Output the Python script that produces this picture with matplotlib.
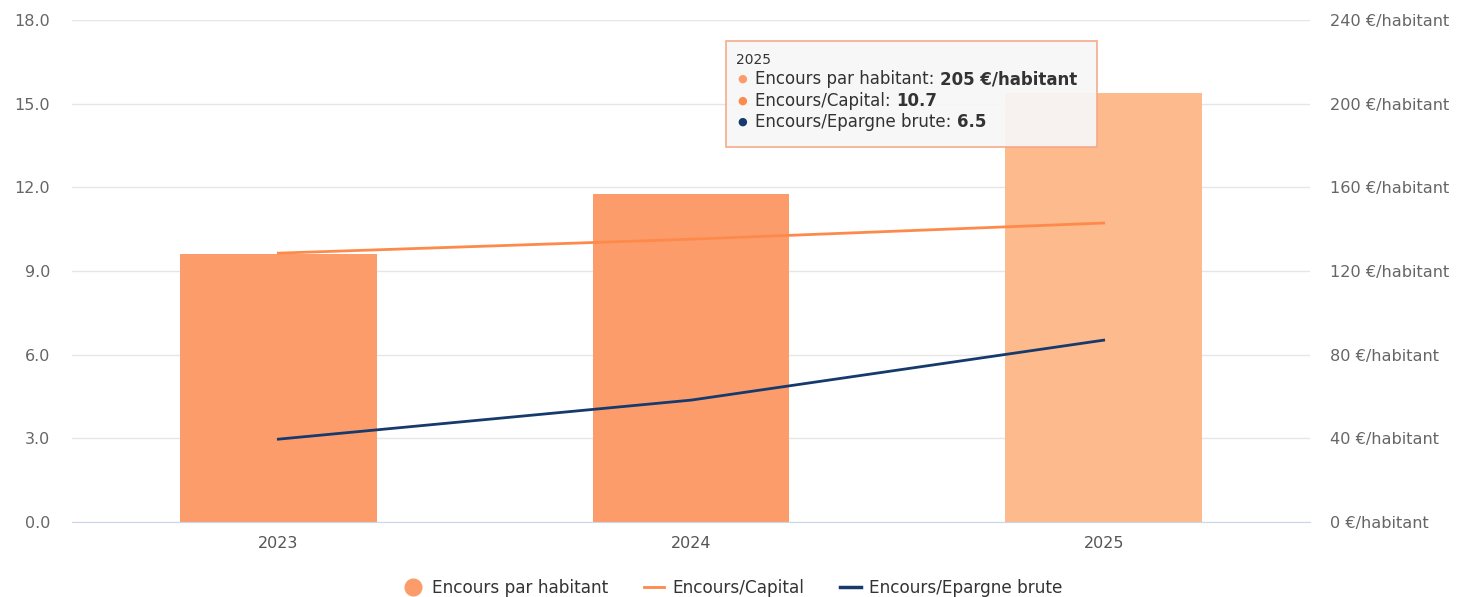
#librerías
import matplotlib
matplotlib.use("Agg")
import matplotlib.pyplot as plt
from matplotlib.lines import Line2D
from matplotlib.patches import FancyBboxPatch

plt.rcParams['font.family'] = ['DejaVu Sans']

#datos
years = ['2023', '2024', '2025']
encours_hab = [128, 157, 205]
encours_capital = [9.64, 10.14, 10.72]
encours_epargne = [2.97, 4.37, 6.52]
ratio_ticks = [0, 3, 6, 9, 12, 15, 18]
hab_ticks = [0, 40, 80, 120, 160, 200, 240]

bar_colors = ['#fd9c6b', '#fd9c6b', '#fdba8c']
c_capital = '#fd8a4b'
c_epargne = '#163a6c'
grey = '#666666'

W, H = 1457, 597
fig = plt.figure(figsize=(W / 100, H / 100), dpi=100)
ax = fig.add_axes([72 / W, (H - 522) / H, 1238 / W, 502 / H])
ax2 = ax.twinx()

x = range(len(years))

#barras sobre el eje en €/habitant (etiquetas a la derecha)
ax.bar(x, encours_hab, width=0.476, color=bar_colors, zorder=2)
ax.set_ylim(0, 240)
ax.set_yticks(hab_ticks)
ax.set_yticklabels([f'{v} €/habitant' for v in hab_ticks])
ax.yaxis.tick_right()
ax.set_xlim(-0.5, 2.5)
ax.set_xticks(list(x))
ax.set_xticklabels(years)
ax.grid(axis='y', color='#e6e6e6', linewidth=1, zorder=0)
ax.set_axisbelow(True)

#líneas sobre el eje de ratios (etiquetas a la izquierda)
ax2.plot(x, encours_capital, color=c_capital, linewidth=2, zorder=3)
ax2.plot(x, encours_epargne, color=c_epargne, linewidth=2, zorder=3)
ax2.set_ylim(0, 18)
ax2.set_yticks(ratio_ticks)
ax2.set_yticklabels([f'{v:.1f}' for v in ratio_ticks])
ax2.yaxis.tick_left()

for a in (ax, ax2):
    for s in a.spines.values():
        s.set_visible(False)
ax.spines['bottom'].set_visible(True)
ax.spines['bottom'].set_color('#ccd6eb')

ax.tick_params(axis='y', length=0, pad=14.4, labelsize=11.6, labelcolor=grey)
ax2.tick_params(axis='y', length=0, pad=15.8, labelsize=11.5, labelcolor=grey)
ax.tick_params(axis='x', length=0, pad=10, labelsize=11.5, labelcolor='#555555')

#leyenda
handles = [
    Line2D([], [], marker='o', linestyle='', markersize=12, color=bar_colors[0]),
    Line2D([], [], color=c_capital, linewidth=2),
    Line2D([], [], color=c_epargne, linewidth=2.5),
]
fig.legend(handles, ['Encours par habitant', 'Encours/Capital', 'Encours/Epargne brute'],
           loc='lower center', bbox_to_anchor=(0.503, -0.025), ncol=3, frameon=False,
           fontsize=12.2, handlelength=1.2, columnspacing=2.1, handletextpad=0.5,
           labelcolor='#333333')

#tooltip
bx0, by0, bx1, by1 = 726, 41, 1097, 147
box = FancyBboxPatch((bx0 / W, (H - by1) / H), (bx1 - bx0) / W, (by1 - by0) / H,
                     boxstyle='square,pad=0', transform=fig.transFigure,
                     facecolor='#f7f7f7', edgecolor='#f4a582', linewidth=1.2,
                     alpha=0.93, zorder=10)
fig.patches.append(box)
fig.text(736 / W, (H - 60) / H, years[2], fontsize=10, color='#333333',
         va='center', zorder=11)

rows = [
    (bar_colors[0], 'Encours par habitant: ', f'{encours_hab[2]} €/habitant'),
    (c_capital, 'Encours/Capital: ', f'{encours_capital[2]:.1f}'),
    (c_epargne, 'Encours/Epargne brute: ', f'{encours_epargne[2]:.1f}'),
]
rows_y = [79, 101, 122]
fig.canvas.draw()
renderer = fig.canvas.get_renderer()
for (col, label, val), ry in zip(rows, rows_y):
    yy = (H - ry) / H
    fig.text(742 / W, yy, '●', fontsize=8, color=col, va='center', ha='center', zorder=11)
    t = fig.text(755 / W, yy, label, fontsize=12, color='#333333', va='center', zorder=11)
    ext = t.get_window_extent(renderer)
    fig.text(ext.x1 / W, yy, val, fontsize=12, color='#333333', fontweight='bold',
             va='center', zorder=11)

fig.savefig('out.png', dpi=100)
